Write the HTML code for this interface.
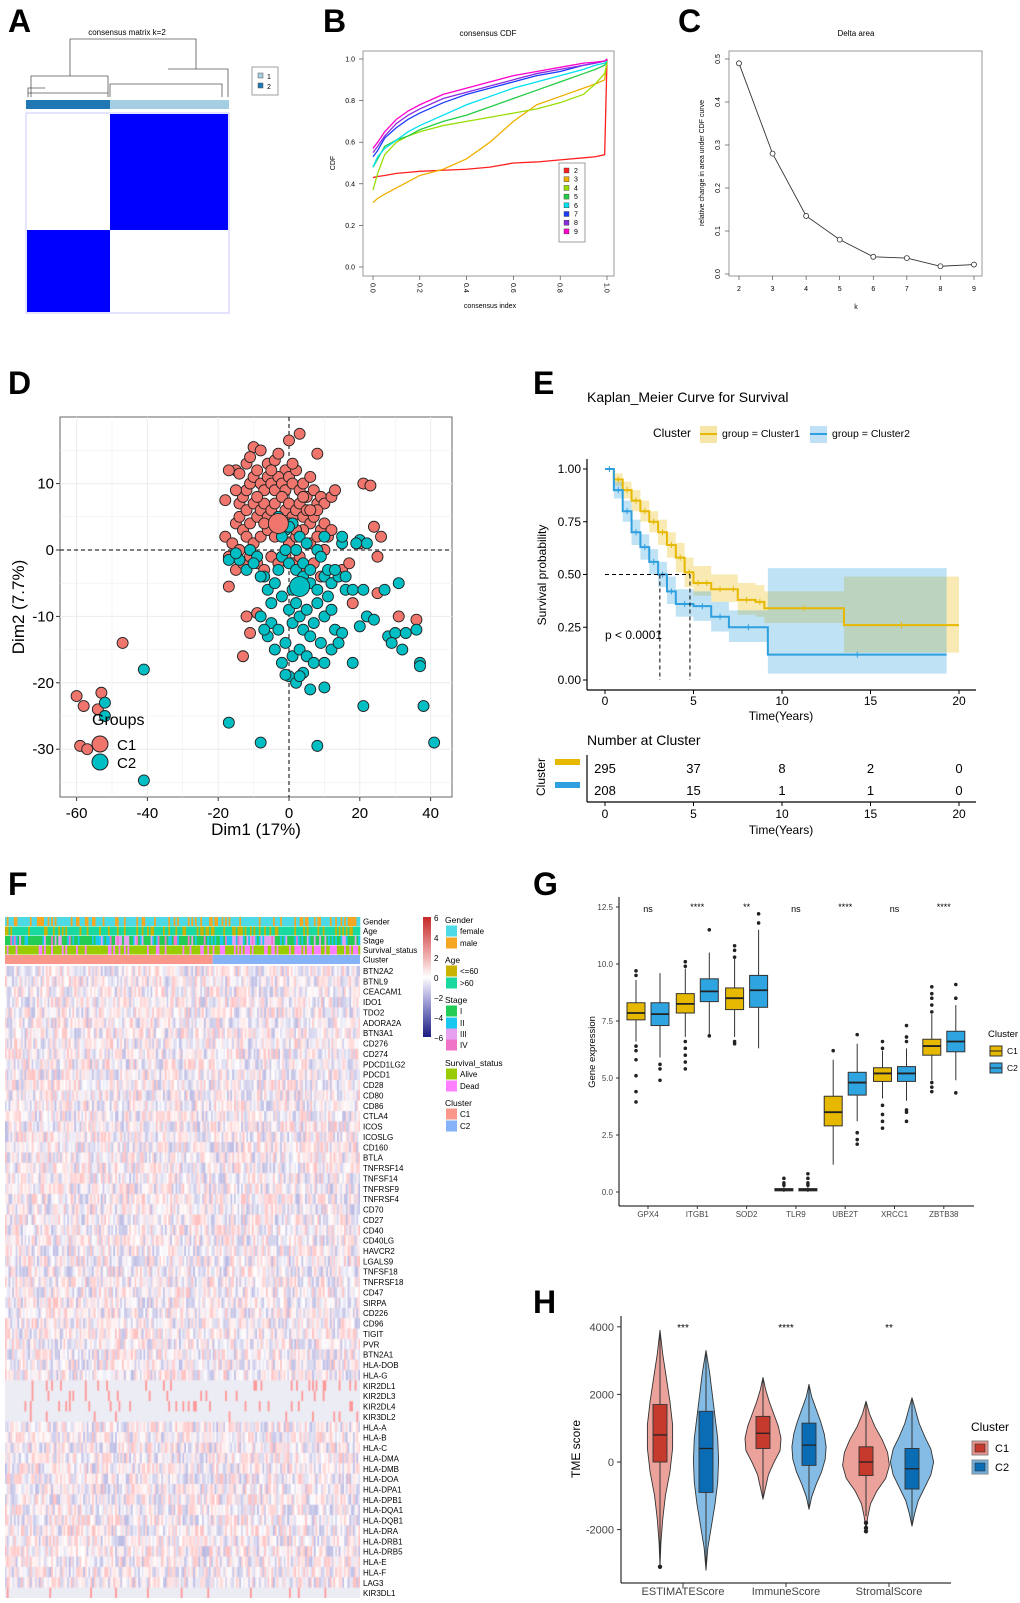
<!DOCTYPE html>
<html><head><meta charset="utf-8"><style>
html,body{margin:0;padding:0;background:#fff;}
body{width:1020px;height:1603px;position:relative;overflow:hidden;font-family:"Liberation Sans",sans-serif;}
#fig{position:absolute;left:0;top:0;}
#hm{position:absolute;left:5px;top:966px;}
.pl{font-family:"Liberation Sans",sans-serif;font-weight:bold;font-size:32px;}
</style></head><body>
<svg id="fig" width="1020" height="1603" viewBox="0 0 1020 1603">
<text class="pl" x="8" y="32">A</text>
<text class="pl" x="323" y="32">B</text>
<text class="pl" x="678" y="32">C</text>
<text class="pl" x="8" y="394">D</text>
<text class="pl" x="533" y="394">E</text>
<text class="pl" x="8" y="895">F</text>
<text class="pl" x="533" y="895">G</text>
<text class="pl" x="533" y="1313">H</text>
</svg>
<canvas id="hm" width="355" height="632"></canvas>
<script>
// ---------------- data ----------------
const cdfX=[0,0.02,0.05,0.1,0.15,0.2,0.3,0.4,0.5,0.6,0.7,0.8,0.9,0.95,0.99,1.0];
const cdfK2=[0.43,0.435,0.44,0.45,0.455,0.46,0.465,0.47,0.48,0.5,0.505,0.515,0.525,0.53,0.54,1.0];
const cdfK3=[0.31,0.33,0.35,0.38,0.41,0.44,0.47,0.52,0.6,0.7,0.78,0.82,0.86,0.88,0.9,0.99];
const cdfK4=[0.37,0.45,0.54,0.6,0.63,0.65,0.68,0.7,0.72,0.74,0.76,0.79,0.83,0.88,0.93,0.98];
const cdfK5=[0.48,0.52,0.58,0.61,0.63,0.66,0.7,0.73,0.77,0.81,0.85,0.89,0.93,0.95,0.97,0.99];
const cdfK6=[0.48,0.53,0.57,0.61,0.65,0.68,0.73,0.78,0.82,0.86,0.89,0.92,0.95,0.97,0.98,0.99];
const cdfK7=[0.53,0.56,0.62,0.67,0.71,0.74,0.79,0.83,0.86,0.89,0.92,0.94,0.97,0.98,0.99,1.0];
const cdfK8=[0.55,0.58,0.63,0.69,0.73,0.76,0.81,0.84,0.87,0.9,0.93,0.95,0.97,0.98,0.99,1.0];
const cdfK9=[0.57,0.6,0.65,0.71,0.75,0.78,0.83,0.86,0.89,0.92,0.94,0.96,0.98,0.985,0.99,1.0];
const kVals=[2,3,4,5,6,7,8,9];
const deltaArea=[0.49,0.28,0.135,0.08,0.04,0.037,0.018,0.022];

const pcaC1=[[-15,12],[-14,11.5],[-10,15.5],[-12,13],[-11,14],[-8,15],[-6,13],[-4,13.5],[-3,14.5],[-1,12],[0,16.5],[3,17.5],[8,14.5],[-14,7],[-13,8],[-12,9],[-11,10],[-10,11],[-9,12],[-8,10],[-7,9],[-6,11],[-5,10],[-4,9],[-3,11],[-2,10],[-1,9],[0,11],[1,10],[2,12],[3,9],[4,10],[5,8],[6,11],[7,9],[8,7],[9,8],[10,7],[12,8],[13,9],[-15,4],[-14,5],[-13,3],[-12,6],[-11,4],[-10,7],[-9,5],[-8,6],[-7,7],[-6,5],[-5,6],[-4,7],[-3,5],[-2,8],[-1,6],[0,7],[1,5],[2,6],[3,7],[4,5],[5,6],[6,4],[7,5],[8,6],[9,3],[10,4],[11,2],[12,3],[-18,2],[-16,1],[-14,0],[-12,2],[-10,1],[-8,2],[-6,3],[-4,2],[-2,3],[0,1],[2,2],[4,3],[6,1],[8,2],[10,0],[-17,-1],[-15,-3],[-13,-2],[-11,-1],[-9,-2],[-7,-3],[-5,-1],[-3,-2],[-1,-1],[1,-2],[3,-1],[5,-3],[7,-2],[9,-4],[12,-5],[15,-3],[17,-2],[20,1],[21,10],[23,9.7],[24,3.5],[26,2],[25,-1],[25,-6.5],[18,-8],[-17,-5.5],[-12,-10],[-9,-9.5],[-11,-12.5],[-13,-16],[-47,-14],[-60,-22],[-53,-21.5],[-58,-23.5],[-54,-24],[-59,-29.5],[-57,-30],[31,-10],[36,-10.5],[-18,7.5],[-17,12],[-15,9],[0,4],[2,3],[-9,8],[-5,12],[1,13],[-7,4],[4,8],[6,6]];
const pcaC2=[[-3,5],[-1,3],[1,4],[3,2],[5,1],[8,0],[10,2],[15,1],[20,1.5],[22,1],[-2,-1],[0,-2],[2,-3],[4,-4],[6,-5],[8,-6],[10,-4],[12,-5],[14,-4],[16,-6],[-14,-1.5],[-12,-3],[-11,0],[-9,-1],[-7,-4],[-6,-6],[-5,-8],[-4,-5],[-2,-7],[0,-9],[1,-11],[2,-8],[3,-10],[4,-12],[5,-9],[6,-13],[7,-11],[8,-8],[9,-14],[10,-10],[11,-7],[12,-9],[13,-12],[15,-12.5],[16,-4],[18,-6],[21,-6],[20,-11.5],[22,-10],[-8,-10],[-6,-13],[-5,-11],[-3,-12],[-1,-14],[1,-16],[3,-15],[5,-16],[7,-17],[10,-17],[12,-15],[14,-14],[18,-17],[-7,-12],[-4,-15],[-2,-17],[0,-19],[2,-20],[4,-18.5],[6,-21],[-1,-18.8],[3,-19],[10,-20.7],[24,-10.5],[28,-13],[30,-12.5],[32,-15],[33,-12.5],[36,-12],[37,-17],[37,-17.5],[21,-23.5],[38,-23.5],[29,-14],[27,-6],[31,-5],[-17,-1.5],[-15,-0.5],[-10,-2],[-8,-4],[-2,2],[0,3.5],[2,0],[4,-2],[6,-3],[9,-1],[-41,-18],[-52,-23],[-52,-25],[-17,-26],[-8,-29],[8,-29.5],[41,-29],[-41,-34.7],[15,2],[19,1],[-1,0],[1,-6],[-3,-3],[11,-3],[13,-3]];
const centroidC1=[-3,4];
const centroidC2=[3,-5.5];
const dXTicks=[-60,-40,-20,0,20,40];
const dYTicks=[-30,-20,-10,0,10];

const kmT1=[0,0.5,1,1.5,2,2.5,3,3.5,4,4.5,5,5.5,6,7,7.5,8.5,9,13.5,20];
const kmS1=[1,0.95,0.9,0.85,0.8,0.75,0.7,0.64,0.58,0.51,0.46,0.46,0.43,0.43,0.38,0.37,0.34,0.26,0.26];
const kmHi1=[1,0.98,0.94,0.9,0.85,0.8,0.76,0.7,0.65,0.58,0.54,0.54,0.5,0.5,0.46,0.45,0.42,0.49,0.49];
const kmLo1=[1,0.92,0.86,0.8,0.75,0.7,0.64,0.58,0.51,0.44,0.4,0.4,0.37,0.37,0.31,0.3,0.27,0.13,0.13];
const kmT2=[0,0.5,1,1.5,2,2.5,3,3.5,4,5,6,7,9.2,19.3];
const kmS2=[1,0.9,0.8,0.7,0.63,0.56,0.5,0.42,0.36,0.35,0.3,0.25,0.12,0.12];
const kmHi2=[1,0.94,0.85,0.76,0.69,0.62,0.56,0.49,0.43,0.42,0.37,0.33,0.53,0.53];
const kmLo2=[1,0.86,0.75,0.64,0.57,0.5,0.44,0.36,0.3,0.28,0.23,0.18,0.03,0.03];
const medianT=[3.1,4.8];
const riskTimes=[0,5,10,15,20];
const risk1=[295,37,8,2,0];
const risk2=[208,15,1,1,0];
const kmYTicks=[0,0.25,0.5,0.75,1.0];

const geneG=['GPX4','ITGB1','SOD2','TLR9','UBE2T','XRCC1','ZBTB38'];
const boxC1=[[6.6,7.55,7.85,8.3,9.3],[6.8,7.85,8.25,8.7,9.8],[6.8,8.0,8.5,8.95,10.3],[0,0.05,0.1,0.15,0.25],[1.2,2.9,3.5,4.2,5.8],[4.1,4.85,5.2,5.45,6.2],[4.9,6.0,6.4,6.7,7.8]];
const boxC2=[[5.9,7.3,7.8,8.3,9.6],[6.9,8.35,8.8,9.35,10.5],[6.3,8.1,8.85,9.5,11.5],[0,0.05,0.1,0.15,0.25],[3.1,4.25,4.8,5.25,6.5],[4.0,4.85,5.2,5.5,6.3],[4.9,6.15,6.6,7.05,8.2]];
const outC1=[[9.7,9.5,6.4,6.2,5.8,5.1,4.4,3.95],[10.1,9.9,6.6,6.3,6.0,5.7,5.4],[10.8,10.6,10.3,6.6,6.5],[0.4,0.6,0.3],[6.2],[6.6,6.3,3.8,3.4,3.1,2.8],[9.0,8.7,8.5,8.2,7.9,4.8,4.6,4.4]];
const outC2=[[5.6,5.4,4.9],[11.5,6.85],[12.2,11.8],[0.4,0.6,0.8,0.3],[6.9,2.6,2.3,2.1],[7.3,6.8,6.6,3.6,3.5,3.1],[9.1,8.5,4.35]];
const sigG=['ns','****','**','ns','****','ns','****'];
const gYTicks=[0,2.5,5,7.5,10,12.5];

const scoreNames=['ESTIMATEScore','ImmuneScore','StromalScore'];
const vRangeC1=[[-3100,3900],[-1100,2500],[-2000,1800]];
const vRangeC2=[[-3200,3300],[-1400,2300],[-1900,1900]];
const vDensC1=[[0,0.05,0.15,0.3,0.55,0.7,0.7,0.55,0.35,0.15,0],[0,0.15,0.3,0.6,0.95,1.0,0.85,0.6,0.35,0.15,0],[0,0.1,0.25,0.6,1.1,1.3,1.2,0.9,0.5,0.2,0]];
const vDensC2=[[0,0.1,0.3,0.5,0.65,0.7,0.65,0.5,0.35,0.2,0],[0,0.15,0.4,0.7,0.9,0.95,0.85,0.65,0.4,0.15,0],[0,0.15,0.35,0.7,1.05,1.2,1.05,0.7,0.4,0.2,0]];
const vBoxC1=[[-2700,0,800,1700,3900],[-1100,400,850,1350,2500],[-1600,-400,0,450,1800]];
const vBoxC2=[[-3200,-900,400,1500,3300],[-1400,-100,500,1150,2300],[-1900,-800,-200,400,1900]];
const vOutC1=[[-3100],[],[-1800,-1950,-2050]];
const vOutC2=[[],[],[]];
const sigH=['***','****','**'];
const hYTicks=[-2000,0,2000,4000];

const genesF=['BTN2A2','BTNL9','CEACAM1','IDO1','TDO2','ADORA2A','BTN3A1','CD276','CD274','PDCD1LG2','PDCD1','CD28','CD80','CD86','CTLA4','ICOS','ICOSLG','CD160','BTLA','TNFRSF14','TNFSF14','TNFRSF9','TNFRSF4','CD70','CD27','CD40','CD40LG','HAVCR2','LGALS9','TNFSF18','TNFRSF18','CD47','SIRPA','CD226','CD96','TIGIT','PVR','BTN2A1','HLA-DOB','HLA-G','KIR2DL1','KIR2DL3','KIR2DL4','KIR3DL2','HLA-A','HLA-B','HLA-C','HLA-DMA','HLA-DMB','HLA-DOA','HLA-DPA1','HLA-DPB1','HLA-DQA1','HLA-DQB1','HLA-DRA','HLA-DRB1','HLA-DRB5','HLA-E','HLA-F','LAG3','KIR3DL1'];
const annoRows=['Gender','Age','Stage','Survival_status','Cluster'];

// ---------------- helpers ----------------
const NS='http://www.w3.org/2000/svg';
const svg=document.getElementById('fig');
function mk(tag,a,p){const e=document.createElementNS(NS,tag);for(const k in a)e.setAttribute(k,a[k]);(p||svg).appendChild(e);return e;}
function tx(x,y,s,a,p){const e=mk('text',Object.assign({x:x,y:y,'font-family':'Liberation Sans, sans-serif'},a),p);e.textContent=s;return e;}
function grp(name){const g=mk('g',{});return g;}
function tex(i,j){let x=Math.sin(i*12.9898+j*78.233)*43758.5453;return x-Math.floor(x);}

// ---------------- Panel A ----------------
(function(){
 const g=grp('consensus-matrix-panel');
 let t=tx(127,35,'consensus matrix k=2',{'font-size':8,'text-anchor':'middle'},g);
 
 
 const d=mk('path',{d:'M70,76 V39 H196 V69 M31,97 V76 H108 V97 M110,97 V84 H222 V97 M168,69 H228 V97 M28,97 V88 H45 M28,93 H108',fill:'none',stroke:'#555','stroke-width':0.8},g);
 
 
 let r=mk('rect',{x:26,y:100,width:84,height:9,fill:'#1f78b4'},g);
 
 
 r=mk('rect',{x:110,y:100,width:119,height:9,fill:'#a6cee3'},g);
 
 
 r=mk('rect',{x:26,y:113,width:203,height:200,fill:'#fff',stroke:'#c8c8ff','stroke-width':1},g);
 
 
 r=mk('rect',{x:110,y:114,width:118,height:116,fill:'#0000ff'},g);
 
 
 r=mk('rect',{x:27,y:230,width:83,height:82,fill:'#0000ff'},g);
 
 
 r=mk('rect',{x:252,y:67,width:26,height:28,fill:'#fff',stroke:'#888','stroke-width':0.8},g);
 
 
 mk('rect',{x:258,y:73,width:5,height:5,fill:'#a6cee3',stroke:'#555','stroke-width':0.5},g);
 mk('rect',{x:258,y:83,width:5,height:5,fill:'#1f78b4',stroke:'#555','stroke-width':0.5},g);
 tx(267,79,'1',{'font-size':7},g);tx(267,89,'2',{'font-size':7},g);
})();

// ---------------- Panel B ----------------
(function(){
 const g=grp('consensus-cdf-panel');
 const bx=v=>373+v*234, by=v=>267-v*208;
 mk('rect',{x:363,y:51,width:251,height:225,fill:'none',stroke:'#999','stroke-width':1},g);
 let t=tx(488,36,'consensus CDF',{'font-size':8,'text-anchor':'middle'},g);
 
 
 [0,0.2,0.4,0.6,0.8,1.0].forEach(v=>{
  mk('line',{x1:359,x2:363,y1:by(v),y2:by(v),stroke:'#333','stroke-width':0.6},g);
  tx(355,by(v)+2.5,v.toFixed(1),{'font-size':7,'text-anchor':'end'},g);
  mk('line',{x1:bx(v),x2:bx(v),y1:276,y2:280,stroke:'#333','stroke-width':0.6},g);
  tx(0,0,v.toFixed(1),{'font-size':7,transform:'translate('+(bx(v)-2.5)+',283) rotate(90)'},g);
 });
 t=tx(0,0,'CDF',{'font-size':7,'text-anchor':'middle',transform:'translate(335,163) rotate(-90)'},g);
 
 
 t=tx(490,308,'consensus index',{'font-size':7,'text-anchor':'middle'},g);
 
 
 const series=[cdfK2,cdfK3,cdfK4,cdfK5,cdfK6,cdfK7,cdfK8,cdfK9];
 const cols=['#ff2020','#f0b000','#99dd00','#22cc44','#00e0f0','#1a3cff','#8a2be2','#ff00cc'];
 series.forEach((s,i)=>{
  const p=mk('polyline',{points:s.map((v,j)=>bx(cdfX[j])+','+by(v)).join(' '),fill:'none',stroke:cols[i],'stroke-width':1.3},g);
  
  
 });
 const lg=mk('rect',{x:559,y:163,width:26,height:79,fill:'#fff',stroke:'#888','stroke-width':0.8},g);
 
 
 cols.forEach((c,i)=>{
  const e=mk('rect',{x:564,y:168+i*8.7,width:5,height:5,fill:c,stroke:'#333','stroke-width':0.4},g);
  
  
  tx(574,173+i*8.7,String(kVals[i]),{'font-size':7},g);
 });
})();

// ---------------- Panel C ----------------
(function(){
 const g=grp('delta-area-panel');
 const cx=k=>739+(k-2)*33.57, cy=v=>274-v*430;
 mk('rect',{x:729,y:51,width:253,height:225,fill:'none',stroke:'#999','stroke-width':1},g);
 let t=tx(856,36,'Delta area',{'font-size':8,'text-anchor':'middle'},g);
 
 
 [0,0.1,0.2,0.3,0.4,0.5].forEach(v=>{
  mk('line',{x1:725,x2:729,y1:cy(v),y2:cy(v),stroke:'#333','stroke-width':0.6},g);
  tx(0,0,v.toFixed(1),{'font-size':7,'text-anchor':'middle',transform:'translate(720,'+cy(v)+') rotate(-90)'},g);
 });
 kVals.forEach(k=>{
  mk('line',{x1:cx(k),x2:cx(k),y1:276,y2:280,stroke:'#333','stroke-width':0.6},g);
  tx(cx(k),291,String(k),{'font-size':7,'text-anchor':'middle'},g);
 });
 t=tx(0,0,'relative change in area under CDF curve',{'font-size':7,'text-anchor':'middle',transform:'translate(704,163) rotate(-90)'},g);
 
 
 t=tx(856,309,'k',{'font-size':7,'text-anchor':'middle'},g);
 
 
 const l=mk('polyline',{points:deltaArea.map((v,i)=>cx(kVals[i])+','+cy(v)).join(' '),fill:'none',stroke:'#333','stroke-width':0.9},g);
 
 
 deltaArea.forEach((v,i)=>{
  const c=mk('circle',{cx:cx(kVals[i]),cy:cy(v),r:2.5,fill:'#fff',stroke:'#333','stroke-width':0.8},g);
  
  
 });
})();

// ---------------- Panel D ----------------
(function(){
 const g=grp('pca-scatter-panel');
 const sx=v=>289+v*3.54, sy=v=>550-v*6.64;
 mk('rect',{x:60,y:417,width:392,height:380,fill:'#fff',stroke:'#666','stroke-width':1},g);
 for(let v=-70;v<=45;v+=10){if(sx(v)>60&&sx(v)<452)mk('line',{x1:sx(v),x2:sx(v),y1:417,y2:797,stroke:'#ececec','stroke-width':v%20===0?1:0.5},g);}
 for(let v=-35;v<=15;v+=5){mk('line',{x1:60,x2:452,y1:sy(v),y2:sy(v),stroke:'#ececec','stroke-width':v%10===0?1:0.5},g);}
 mk('line',{x1:sx(0),x2:sx(0),y1:417,y2:797,stroke:'#000','stroke-width':1,'stroke-dasharray':'4,3'},g);
 mk('line',{x1:60,x2:452,y1:sy(0),y2:sy(0),stroke:'#000','stroke-width':1,'stroke-dasharray':'4,3'},g);
 dXTicks.forEach(v=>{mk('line',{x1:sx(v),x2:sx(v),y1:797,y2:801,stroke:'#333'},g);tx(sx(v),818,String(v),{'font-size':15,'text-anchor':'middle'},g);});
 dYTicks.forEach(v=>{mk('line',{x1:56,x2:60,y1:sy(v),y2:sy(v),stroke:'#333'},g);tx(54,sy(v)+5,String(v),{'font-size':15,'text-anchor':'end'},g);});
 let t=tx(256,835,'Dim1 (17%)',{'font-size':17,'text-anchor':'middle'},g);
 
 
 t=tx(0,0,'Dim2 (7.7%)',{'font-size':17,'text-anchor':'middle',transform:'translate(24,607) rotate(-90)'},g);
 
 
 pcaC1.forEach(p=>{const c=mk('circle',{cx:sx(p[0]),cy:sy(p[1]),r:5.5,fill:'#f0766d',stroke:'#222','stroke-width':0.9},g);
  
  });
 pcaC2.forEach(p=>{const c=mk('circle',{cx:sx(p[0]),cy:sy(p[1]),r:5.5,fill:'#00bfc4',stroke:'#222','stroke-width':0.9},g);
  
  });
 let c=mk('circle',{cx:sx(centroidC1[0]),cy:sy(centroidC1[1]),r:10,fill:'#f0766d',stroke:'#222','stroke-width':0.9},g);
 
 
 c=mk('circle',{cx:sx(centroidC2[0]),cy:sy(centroidC2[1]),r:10,fill:'#00bfc4',stroke:'#222','stroke-width':0.9},g);
 
 
 t=tx(92,725,'Groups',{'font-size':16},g);
 
 
 c=mk('circle',{cx:100,cy:744,r:8,fill:'#f0766d',stroke:'#222'},g);
 
 
 c=mk('circle',{cx:100,cy:762,r:8,fill:'#00bfc4',stroke:'#222'},g);
 
 
 tx(117,750,'C1',{'font-size':15},g);tx(117,768,'C2',{'font-size':15},g);
})();

// ---------------- Panel E ----------------
(function(){
 const g=grp('kaplan-meier-panel');
 const kx=t=>605+t*17.7, ky=s=>680-s*211;
 const yel='#e7b800', blu='#2e9fdf';
 let t=tx(587,402,'Kaplan_Meier Curve for Survival',{'font-size':14},g);
 
 
 tx(653,437,'Cluster',{'font-size':12},g);
 mk('rect',{x:700,y:426,width:17,height:17,fill:'#f5e6a8'},g);
 mk('line',{x1:700,x2:717,y1:434,y2:434,stroke:yel,'stroke-width':2},g);
 tx(722,437,'group = Cluster1',{'font-size':10.5},g);
 mk('rect',{x:810,y:426,width:17,height:17,fill:'#bfe0f5'},g);
 mk('line',{x1:810,x2:827,y1:434,y2:434,stroke:blu,'stroke-width':2},g);
 tx(832,437,'group = Cluster2',{'font-size':10.5},g);
 function band(T,H,L,col,name){
  let up=[],lo=[];
  for(let i=0;i<T.length;i++){up.push([kx(T[i]),ky(H[i])]);if(i<T.length-1)up.push([kx(T[i+1]),ky(H[i])]);}
  for(let i=0;i<T.length;i++){lo.push([kx(T[i]),ky(L[i])]);if(i<T.length-1)lo.push([kx(T[i+1]),ky(L[i])]);}
  const pts=up.concat(lo.reverse()).map(p=>p.join(',')).join(' ');
  const e=mk('polygon',{points:pts,fill:col,'fill-opacity':0.3,stroke:'none'},g);
  
  
 }
 function step(T,S,col,name){
  let d='M'+kx(T[0])+','+ky(S[0]);
  for(let i=1;i<T.length;i++){d+=' H'+kx(T[i])+' V'+ky(S[i]);}
  const e=mk('path',{d:d,fill:'none',stroke:col,'stroke-width':2},g);
  
  
  for(let i=1;i<T.length;i++){const xm=kx((T[i-1]+T[i])/2);mk('line',{x1:xm,x2:xm,y1:ky(S[i-1])-3,y2:ky(S[i-1])+3,stroke:col,'stroke-width':1},g);}
 }
 band(kmT1,kmHi1,kmLo1,yel,'ci-band-cluster1');
 band(kmT2,kmHi2,kmLo2,blu,'ci-band-cluster2');
 step(kmT1,kmS1,yel,'survival-curve-cluster1');
 step(kmT2,kmS2,blu,'survival-curve-cluster2');
 mk('path',{d:'M'+kx(0)+','+ky(0.5)+' H'+kx(medianT[1])+' M'+kx(medianT[0])+','+ky(0.5)+' V'+ky(0)+' M'+kx(medianT[1])+','+ky(0.5)+' V'+ky(0),fill:'none',stroke:'#000','stroke-dasharray':'4,3','stroke-width':1},g);
 mk('line',{x1:587,x2:587,y1:459,y2:690,stroke:'#000','stroke-width':1.2},g);
 mk('line',{x1:587,x2:976,y1:690,y2:690,stroke:'#000','stroke-width':1.2},g);
 kmYTicks.forEach(v=>{mk('line',{x1:583,x2:587,y1:ky(v),y2:ky(v),stroke:'#000'},g);tx(581,ky(v)+4,v.toFixed(2),{'font-size':12,'text-anchor':'end'},g);});
 riskTimes.forEach(v=>{mk('line',{x1:kx(v),x2:kx(v),y1:690,y2:694,stroke:'#000'},g);tx(kx(v),705,String(v),{'font-size':12,'text-anchor':'middle'},g);});
 t=tx(781,720,'Time(Years)',{'font-size':12,'text-anchor':'middle'},g);
 
 
 t=tx(0,0,'Survival probability',{'font-size':12,'text-anchor':'middle',transform:'translate(546,575) rotate(-90)'},g);
 
 
 t=tx(605,639,'p < 0.0001',{'font-size':12},g);
 
 
 t=tx(587,745,'Number at Cluster',{'font-size':14},g);
 
 
 mk('rect',{x:555,y:759,width:25,height:6,fill:yel},g);
 mk('rect',{x:555,y:782,width:25,height:6,fill:blu},g);
 tx(0,0,'Cluster',{'font-size':12,'text-anchor':'middle',transform:'translate(545,777) rotate(-90)'},g);
 mk('line',{x1:587,x2:587,y1:755,y2:802,stroke:'#000','stroke-width':1.2},g);
 mk('line',{x1:587,x2:976,y1:802,y2:802,stroke:'#000','stroke-width':1.2},g);
 riskTimes.forEach((v,i)=>{
  let e=tx(kx(v),773,String(risk1[i]),{'font-size':13,'text-anchor':'middle'},g);
  
  
  e=tx(kx(v),795,String(risk2[i]),{'font-size':13,'text-anchor':'middle'},g);
  
  
  mk('line',{x1:kx(v),x2:kx(v),y1:802,y2:806,stroke:'#000'},g);
  tx(kx(v),818,String(v),{'font-size':12,'text-anchor':'middle'},g);
 });
 tx(781,834,'Time(Years)',{'font-size':12,'text-anchor':'middle'},g);
})();

// ---------------- Panel F (annotations, labels, legend) ----------------
(function(){
 const g=grp('heatmap-annotations');
 const x0=5,w=355,nCol=200,cw=w/nCol,split=Math.round((212-5)/cw);
 const gen=['#4dd9e6','#f5a623'],age=['#c9b200','#19d9a0'],stg=['#22cc55','#19c8f0','#e6a0f0','#f075c8'],srv=['#99cc00','#ff80ff'];
 for(let j=0;j<nCol;j++){
  const x=x0+j*cw, r=tex(j,1),r2=tex(j,2),r3=tex(j,3),r4=tex(j,4);
  mk('rect',{x:x,y:917,width:cw+0.3,height:9,fill:gen[r<0.7?0:1]},g);
  mk('rect',{x:x,y:926.5,width:cw+0.3,height:9,fill:age[r2<0.35?0:1]},g);
  mk('rect',{x:x,y:936,width:cw+0.3,height:9,fill:stg[r3<0.5?0:r3<0.75?1:r3<0.9?2:3]},g);
  mk('rect',{x:x,y:945.5,width:cw+0.3,height:9,fill:srv[r4<(j<split?0.8:0.55)?0:1]},g);
 }
 let r=mk('rect',{x:x0,y:955,width:split*cw,height:9,fill:'#f8978a'},g);
 
 
 r=mk('rect',{x:x0+split*cw,y:955,width:w-split*cw,height:9,fill:'#86b2f8'},g);
 
 
 annoRows.forEach((n,i)=>{const t=tx(363,924.5+i*9.5,n,{'font-size':8},g);});
 genesF.forEach((n,i)=>{const t=tx(363,974+i*10.37,n,{'font-size':8},g);});
 const defs=mk('defs',{});
 const lgd=mk('linearGradient',{id:'cb',x1:0,y1:0,x2:0,y2:1},defs);
 [['0','#c62828'],['0.33','#f0b0b0'],['0.5','#ffffff'],['0.67','#b0b0e0'],['1','#1a1a80']].forEach(s=>mk('stop',{offset:s[0],'stop-color':s[1]},lgd));
 r=mk('rect',{x:423,y:917,width:8,height:120,fill:'url(#cb)'},g);
 
 
 [6,4,2,0,-2,-4,-6].forEach((v,i)=>tx(434,921+i*20,v<0?'\u2212'+(-v):String(v),{'font-size':8},g));
 const L=[['Gender',920,null],['female',931,'#4dd9e6'],['male',943,'#f5a623'],['Age',960,null],['<=60',971,'#c9b200'],['>60',983,'#19d9a0'],['Stage',1000,null],['I',1011,'#22cc55'],['II',1023,'#19c8f0'],['III',1034,'#e6a0f0'],['IV',1045,'#f075c8'],['Survival_status',1063,null],['Alive',1074,'#99cc00'],['Dead',1086,'#ff80ff'],['Cluster',1103,null],['C1',1114,'#f8978a'],['C2',1126,'#86b2f8']];
 L.forEach(l=>{
  if(l[2]){const e=mk('rect',{x:446,y:l[1]-5.5,width:11,height:11,fill:l[2]},g);tx(460,l[1]+3,l[0],{'font-size':8},g);}
  else{tx(445,l[1]+3,l[0],{'font-size':8.5},g);}
 });
})();
// heatmap body (texture via canvas)
(function(){
 const cv=document.getElementById('hm'),ctx=cv.getContext('2d');
 const nCol=200,cw=355/nCol,rh=632/genesF.length;
 genesF.forEach((gname,i)=>{
  const kir=gname.indexOf('KIR')===0;
  for(let j=0;j<nCol;j++){
   const u=tex(i+7,j+11);
   let v=(u-0.5)*2.2;
   if(kir){v=(u>0.93)?1.8:(u-0.5)*0.3;}
   const a=Math.min(1,Math.abs(v)/2.4);
   let r,gg,b;
   if(v>=0){r=255;gg=Math.round(255-a*140);b=Math.round(255-a*140);}
   else{r=Math.round(255-a*150);gg=Math.round(255-a*150);b=Math.round(255-a*60);}
   if(kir&&v<0.5){r=236;gg=236;b=244;}
   ctx.fillStyle='rgb('+r+','+gg+','+b+')';
   ctx.fillRect(j*cw,i*rh,cw+0.5,rh+0.5);
  }
 });
})();

// ---------------- Panel G ----------------
(function(){
 const g=grp('gene-expression-boxplot-panel');
 const gy=v=>1192-v*22.8, gx=i=>648+i*49.3;
 const fills=['#e7b800','#2ea4e0'];
 mk('line',{x1:619,x2:619,y1:897,y2:1206,stroke:'#000','stroke-width':1},g);
 mk('line',{x1:619,x2:974,y1:1206,y2:1206,stroke:'#000','stroke-width':1},g);
 gYTicks.forEach(v=>{mk('line',{x1:616,x2:619,y1:gy(v),y2:gy(v),stroke:'#333'},g);tx(613,gy(v)+3,v.toFixed(1),{'font-size':8,'text-anchor':'end',fill:'#444'},g);});
 let t=tx(0,0,'Gene expression',{'font-size':9.5,'text-anchor':'middle',transform:'translate(595,1052) rotate(-90)'},g);
 
 
 geneG.forEach((n,i)=>{
  mk('line',{x1:gx(i),x2:gx(i),y1:1206,y2:1209,stroke:'#333'},g);
  tx(gx(i),1217,n,{'font-size':8,'text-anchor':'middle',fill:'#444'},g);
  const s=tx(gx(i),sigG[i]==='ns'?912:910,sigG[i],{'font-size':9,'text-anchor':'middle'},g);
  
  
  [[boxC1[i],outC1[i],-12,0],[boxC2[i],outC2[i],12,1]].forEach(b=>{
   const st=b[0],cx=gx(i)+b[2];
   mk('line',{x1:cx,x2:cx,y1:gy(st[0]),y2:gy(st[4]),stroke:'#333','stroke-width':1},g);
   const r=mk('rect',{x:cx-9,y:gy(st[3]),width:18,height:Math.max(2,gy(st[1])-gy(st[3])),fill:fills[b[3]],stroke:'#333','stroke-width':1},g);
   
   
   mk('line',{x1:cx-9,x2:cx+9,y1:gy(st[2]),y2:gy(st[2]),stroke:'#222','stroke-width':1.8},g);
   b[1].forEach(o=>mk('circle',{cx:cx,cy:gy(o),r:1.8,fill:'#222'},g));
  });
 });
 tx(988,1037,'Cluster',{'font-size':9.5},g);
 [['C1',1051,fills[0]],['C2',1068,fills[1]]].forEach(l=>{
  const r=mk('rect',{x:990,y:l[1]-5,width:12,height:10,fill:l[2],stroke:'#333'},g);
  
  
  mk('line',{x1:990,x2:1002,y1:l[1],y2:l[1],stroke:'#222'},g);
  tx(1007,l[1]+3,l[0],{'font-size':8.5},g);
 });
})();

// ---------------- Panel H ----------------
(function(){
 const g=grp('tme-violin-panel');
 const hy=v=>1462-v*0.0338, hx=i=>683+i*103;
 const vf=['#e8928a','#6fb0e0'], bf=['#c63a2e','#0b6cb6'];
 mk('line',{x1:621,x2:621,y1:1316,y2:1583,stroke:'#000','stroke-width':1},g);
 mk('line',{x1:621,x2:951,y1:1583,y2:1583,stroke:'#000','stroke-width':1},g);
 hYTicks.forEach(v=>{mk('line',{x1:617,x2:621,y1:hy(v),y2:hy(v),stroke:'#333'},g);tx(614,hy(v)+4,String(v),{'font-size':11,'text-anchor':'end',fill:'#444'},g);});
 let t=tx(0,0,'TME score',{'font-size':12,'text-anchor':'middle',transform:'translate(580,1449) rotate(-90)'},g);
 
 
 scoreNames.forEach((n,i)=>{
  mk('line',{x1:hx(i),x2:hx(i),y1:1583,y2:1587,stroke:'#333'},g);
  tx(hx(i),1595,n,{'font-size':11,'text-anchor':'middle',fill:'#444'},g);
  const s=tx(hx(i),1331,sigH[i],{'font-size':10,'text-anchor':'middle'},g);
  
  
  [[vRangeC1[i],vDensC1[i],vBoxC1[i],vOutC1[i],-23,0],[vRangeC2[i],vDensC2[i],vBoxC2[i],vOutC2[i],23,1]].forEach(b=>{
   const rg=b[0],dn=b[1],st=b[2],cx=hx(i)+b[4],n1=dn.length-1;
   let R=[],Lf=[];
   dn.forEach((d,k)=>{const v=rg[0]+(rg[1]-rg[0])*k/n1;R.push([cx+d*18,hy(v)]);Lf.push([cx-d*18,hy(v)]);});
   const pts=R.concat(Lf.reverse()).map(p=>p[0].toFixed(1)+','+p[1].toFixed(1)).join(' ');
   const v=mk('polygon',{points:pts,fill:vf[b[5]],'fill-opacity':0.85,stroke:'#333','stroke-width':0.9,'stroke-linejoin':'round'},g);
   
   
   mk('line',{x1:cx,x2:cx,y1:hy(st[0]),y2:hy(st[4]),stroke:'#333'},g);
   const r=mk('rect',{x:cx-7,y:hy(st[3]),width:14,height:hy(st[1])-hy(st[3]),fill:bf[b[5]],stroke:'#333','stroke-width':0.9},g);
   
   
   mk('line',{x1:cx-7,x2:cx+7,y1:hy(st[2]),y2:hy(st[2]),stroke:'#222','stroke-width':1.3},g);
   b[3].forEach(o=>mk('circle',{cx:cx,cy:hy(o),r:2.2,fill:'#222'},g));
  });
 });
 tx(971,1431,'Cluster',{'font-size':12},g);
 [['C1',1448,0],['C2',1467,1]].forEach(l=>{
  const r=mk('rect',{x:972,y:l[1]-7,width:16,height:14,fill:vf[l[2]],stroke:'#888'},g);
  
  
  mk('rect',{x:975,y:l[1]-4,width:10,height:8,fill:bf[l[2]],stroke:'#333','stroke-width':0.6},g);
  tx(995,l[1]+4,l[0],{'font-size':11},g);
 });
})();
</script>
</body></html>
